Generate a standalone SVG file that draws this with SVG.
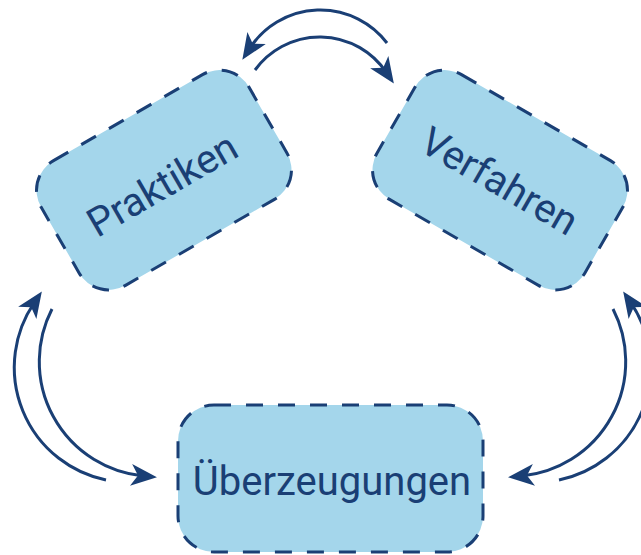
<svg xmlns="http://www.w3.org/2000/svg" width="641" height="555" viewBox="0 0 641 555">
  <style>
    .box { fill: #a4d6eb; stroke: #1a3f75; stroke-width: 3; stroke-dasharray: 17 15; }
    .lbl { font-family: Roboto, "Liberation Sans", sans-serif; font-size: 40px; fill: #1a3f75; text-anchor: middle; }
    .conn { fill: none; stroke: #1a3f75; stroke-width: 3; marker-end: url(#arrow); }
  </style>
  <defs>
    <marker id="arrow" viewBox="0 0 26 22" markerWidth="26" markerHeight="22" refX="12" refY="11" orient="auto" markerUnits="userSpaceOnUse" overflow="visible">
      <path d="M0,0 L26,11 L0,22 L7,11 Z" fill="#1a3f75"/>
    </marker>
  </defs>
  <rect width="641" height="555" fill="#ffffff"/>
  <g id="connectors">
    <path class="conn" d="M387,43 A84,84 0 0,0 250,48"/>
    <path class="conn" d="M255,70 A80,80 0 0,1 386,72"/>
    <path class="conn" d="M106,480 A115,115 0 0,1 34,303"/>
    <path class="conn" d="M52,309 A115,115 0 0,0 143,476"/>
    <path class="conn" d="M559,480 A115,115 0 0,0 631,303"/>
    <path class="conn" d="M613,309 A115,115 0 0,1 522,476"/>
  </g>
  <g id="praktiken" transform="translate(164,180) rotate(-30)">
    <rect class="box" x="-120" y="-72" width="240" height="144" rx="34"/>
    <text class="lbl" x="-4" y="17">Praktiken</text>
  </g>
  <g id="verfahren" transform="translate(500,180) rotate(30)">
    <rect class="box" x="-120" y="-72" width="240" height="144" rx="34"/>
    <text class="lbl" x="0" y="15">Verfahren</text>
  </g>
  <g id="ueberzeugungen">
    <rect class="box" x="178" y="405" width="305" height="147" rx="36"/>
    <text class="lbl" x="332" y="495">Überzeugungen</text>
  </g>
</svg>
